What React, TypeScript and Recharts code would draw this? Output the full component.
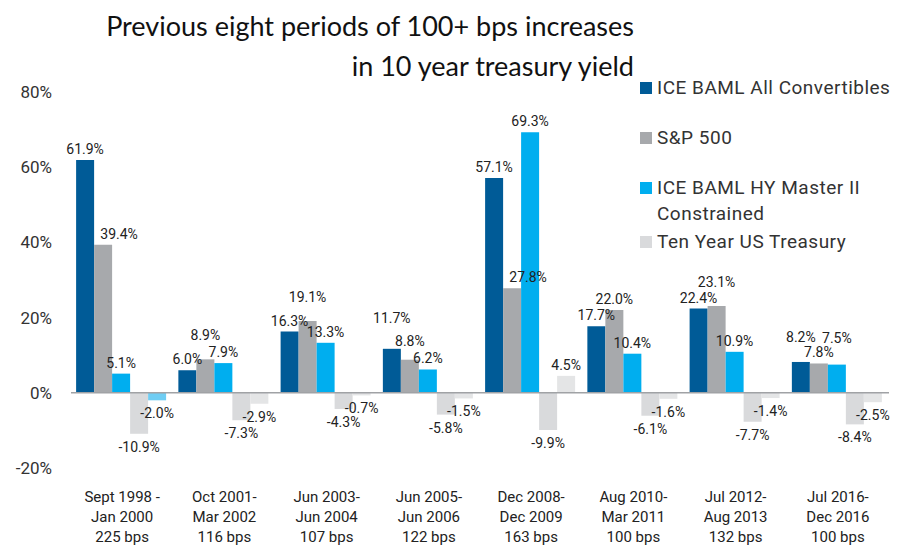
import React from 'react';
import { BarChart, Bar, XAxis, YAxis, ReferenceLine, LabelList, Cell } from 'recharts';

const periodStart = ['Sept 1998 -', 'Oct 2001-', 'Jun 2003-', 'Jun 2005-', 'Dec 2008-', 'Aug 2010-', 'Jul 2012-', 'Jul 2016-'];
const periodEnd = ['Jan 2000', 'Mar 2002', 'Jun 2004', 'Jun 2006', 'Dec 2009', 'Mar 2011', 'Aug 2013', 'Dec 2016'];
const periodBps = ['225 bps', '116 bps', '107 bps', '122 bps', '163 bps', '100 bps', '132 bps', '100 bps'];

const convertibles = [61.9, 6.0, 16.3, 11.7, 57.1, 17.7, 22.4, 8.2];
const sp500 = [39.4, 8.9, 19.1, 8.8, 27.8, 22.0, 23.1, 7.8];
const hyMaster = [5.1, 7.9, 13.3, 6.2, 69.3, 10.4, 10.9, 7.5];
const treasury = [-10.9, -7.3, -4.3, -5.8, -9.9, -6.1, -7.7, -8.4];
const extra = [-2.0, -2.9, -0.7, -1.5, 4.5, -1.6, -1.4, -2.5];

const yTicks = [-20, 0, 20, 40, 60, 80];

const seriesNames = ['ICE BAML All Convertibles', 'S&P 500', 'ICE BAML HY Master II Constrained', 'Ten Year US Treasury'];
const seriesColors = ['#005b97', '#a7a9ac', '#00aeef', '#d9dadc'];
const extraColor = '#e4e5e6';
const extraFirstColor = '#6fcdf3';

const data = periodStart.map((start, i) => ({
  start,
  end: periodEnd[i],
  bps: periodBps[i],
  conv: convertibles[i],
  sp: sp500[i],
  hy: hyMaster[i],
  tsy: treasury[i],
  extra: extra[i],
}));

const FONT = 'Roboto, "Open Sans", sans-serif';

const PeriodTick = (props: any) => {
  const { x, y, payload } = props;
  const row = data[payload.index];
  return (
    <text x={x} y={y} textAnchor="middle" fill="#222" fontSize={15} fontFamily={FONT}>
      <tspan x={x} dy={34}>{row.start}</tspan>
      <tspan x={x} dy={20}>{row.end}</tspan>
      <tspan x={x} dy={20}>{row.bps}</tspan>
    </text>
  );
};

const pct = (v: number) => `${Number(v).toFixed(1)}%`;

// value label: above positive bars, below negative ones; crowded labels get lifted
const makeLabel = (key: string) => (props: any) => {
  const { x, y, width, height, value, index } = props;
  const row = data[index];
  const convLifted = row.sp < row.conv && row.conv - row.sp < 4;
  const hyClose = Math.abs(row.hy - row.sp) < 1;
  let lift = 0;
  let dx = 0;
  if (key === 'conv' && convLifted) lift = hyClose ? 14 : 20;
  if (key === 'sp' && row.sp > row.conv && row.sp - row.conv < 4) lift = 13;
  if (key === 'sp' && convLifted && !hyClose) lift = 8;
  if (key === 'sp' && row.conv - row.sp > 10) dx = 16;
  if (key === 'hy' && convLifted && hyClose) lift = 16;
  const neg = height < 0 || value < 0;
  const cx = x + width / 2 + dx;
  const ty = neg ? y + 18 : y - 6 - lift;
  return (
    <text x={cx} y={ty} textAnchor="middle" fontSize={14} fill="#222" fontFamily={FONT}>
      {pct(value)}
    </text>
  );
};

const App: React.FC = () => {
  return (
    <div style={{ position: 'absolute', left: 0, top: 0, width: 903, height: 548, background: '#fff' }}>
      <div
        style={{
          position: 'absolute',
          left: 60,
          top: 6,
          width: 574,
          textAlign: 'right',
          fontFamily: 'Lato, sans-serif',
          fontSize: 27,
          lineHeight: '40px',
          color: '#111',
        }}
      >
        Previous eight periods of 100+ bps increases
        <br />
        in 10 year treasury yield
      </div>

      <BarChart
        width={903}
        height={548}
        data={data}
        margin={{ top: 92, right: 14, bottom: 50, left: 0 }}
        barCategoryGap="5%"
        barGap={0}
      >
        <XAxis
          dataKey="start"
          axisLine={false}
          tickLine={false}
          tickSize={0}
          tickMargin={0}
          height={30}
          tick={<PeriodTick />}
          interval={0}
        />
        <YAxis
          width={71}
          domain={[-20, 80]}
          ticks={yTicks}
          axisLine={false}
          tickLine={false}
          tickMargin={13}
          tickFormatter={(v) => `${v}%`}
          tick={{ fontSize: 17, fill: '#333', fontFamily: FONT }}
        />
        <ReferenceLine y={0} stroke="#a0a2a5" strokeWidth={1.5} />
        <Bar dataKey="conv" fill={seriesColors[0]} isAnimationActive={false}>
          <LabelList dataKey="conv" content={makeLabel('conv')} />
        </Bar>
        <Bar dataKey="sp" fill={seriesColors[1]} isAnimationActive={false}>
          <LabelList dataKey="sp" content={makeLabel('sp')} />
        </Bar>
        <Bar dataKey="hy" fill={seriesColors[2]} isAnimationActive={false}>
          <LabelList dataKey="hy" content={makeLabel('hy')} />
        </Bar>
        <Bar dataKey="tsy" fill={seriesColors[3]} isAnimationActive={false}>
          <LabelList dataKey="tsy" content={makeLabel('tsy')} />
        </Bar>
        <Bar dataKey="extra" fill={extraColor} isAnimationActive={false}>
          {data.map((_, i) => (
            <Cell key={`x-${i}`} fill={i === 0 ? extraFirstColor : extraColor} />
          ))}
          <LabelList dataKey="extra" content={makeLabel('extra')} />
        </Bar>
      </BarChart>

      <div style={{ position: 'absolute', left: 640, top: 75, width: 263, fontFamily: FONT, fontSize: 19, color: '#333' }}>
        {seriesNames.map((name, i) => (
          <div
            key={name}
            style={{ display: 'flex', alignItems: 'flex-start', lineHeight: '26px', marginTop: [0, 24, 24, 2][i] }}
          >
            <span
              style={{
                display: 'inline-block',
                width: 12,
                height: 12,
                background: seriesColors[i],
                marginTop: 7,
                marginRight: 5,
                flexShrink: 0,
              }}
            />
            <span style={{ letterSpacing: 0.5 }}>{name}</span>
          </div>
        ))}
      </div>
    </div>
  );
};

export default App;
